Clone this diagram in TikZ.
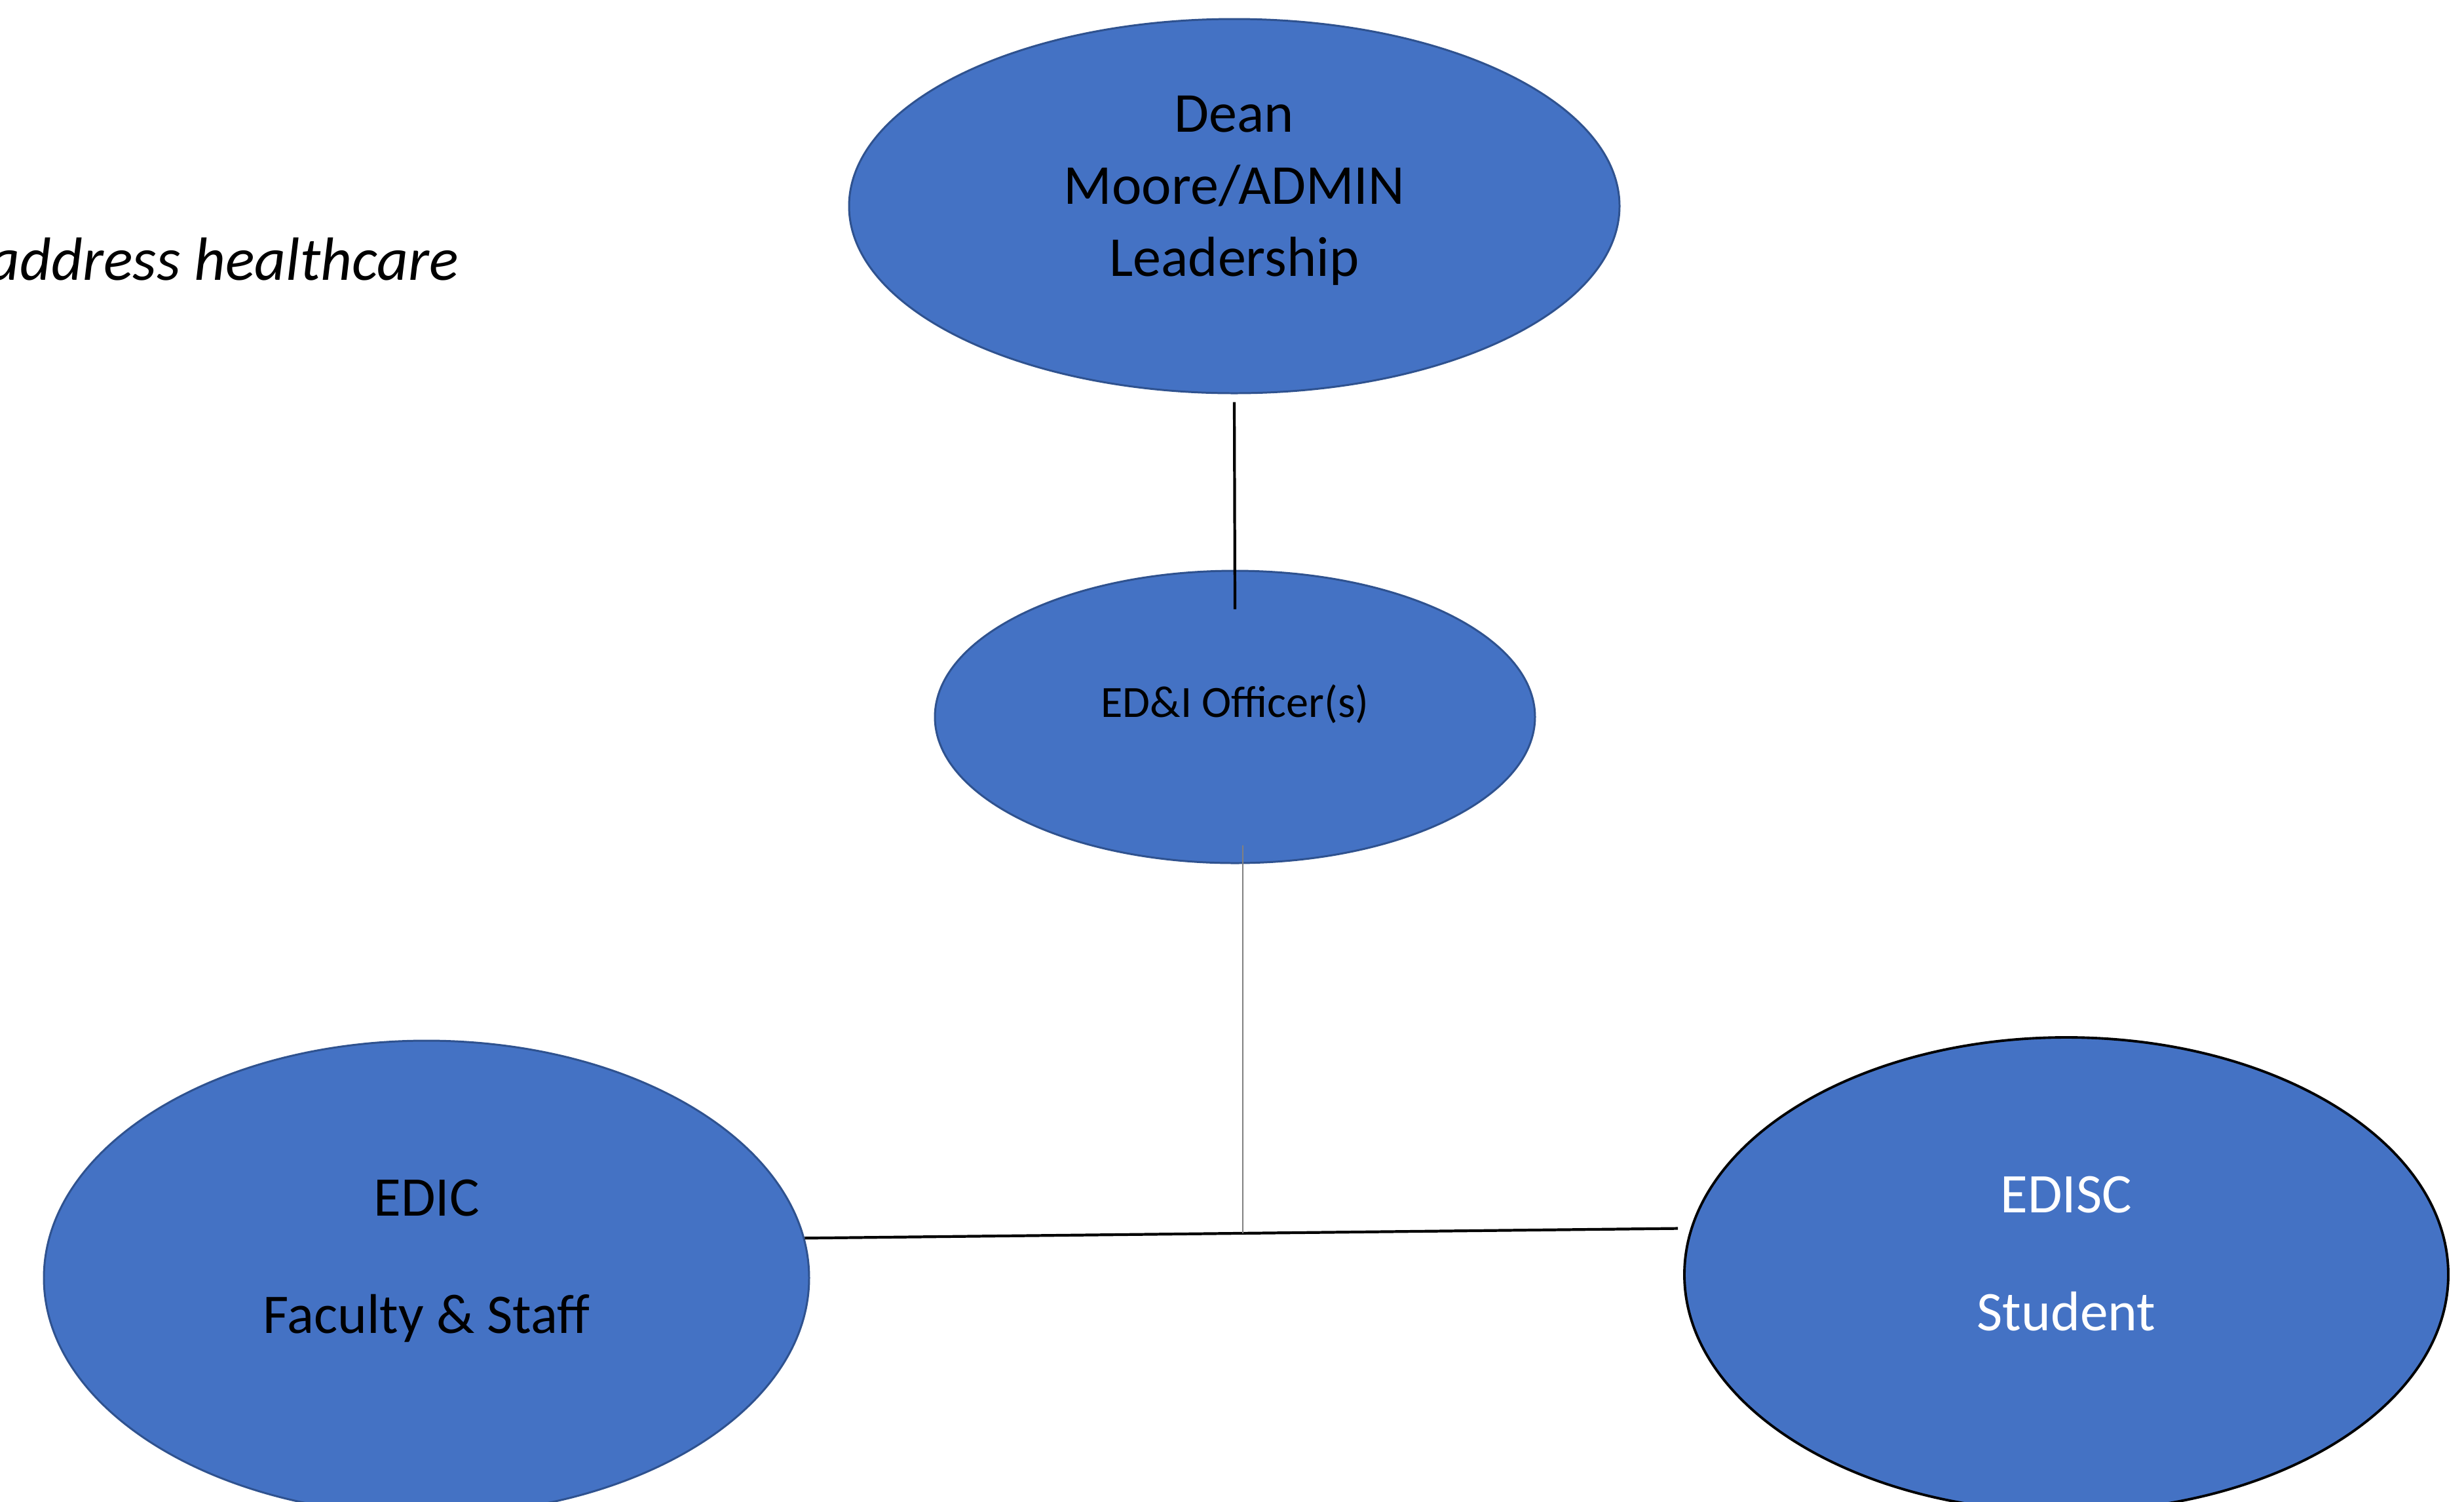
\documentclass[tikz,border=0pt]{standalone}
\usepackage{fontspec}
\setmainfont{Carlito}
\usetikzlibrary{shapes.geometric,calc}
\definecolor{officeblue}{HTML}{4472C4}
\definecolor{officeedge}{HTML}{2F528F}
\tikzset{
  blob/.style={ellipse,draw=officeedge,fill=officeblue,line width=0.85pt,inner sep=0pt},
  blobtext/.style={align=center,font=\fontsize{24.3}{29.6}\selectfont},
  link/.style={line width=1.2pt},
}
\begin{document}
\begin{tikzpicture}
\useasboundingbox (0,0) rectangle (37.61,-22.91);
\node[font=\itshape\fontsize{26.5}{32}\selectfont,anchor=base east] (goal) at (7.12,-4.27) {address healthcare};
% the ellipses
\node[blob,minimum width=11.76cm,minimum height=5.71cm] (dean) at (18.84,-3.145) {};
\node[blob,minimum width=9.16cm,minimum height=4.46cm] (edi) at (18.85,-10.94) {};
\node[blob,minimum width=11.68cm,minimum height=7.24cm] (edic) at (6.51,-19.50) {};
\node[blob,draw=black,line width=1.1pt,minimum width=11.66cm,minimum height=7.24cm] (edisc) at (31.54,-19.45) {};
% the texts in them
\node[blobtext,font=\fontsize{24.5}{31.3}\selectfont] (deantxt) at ([yshift=2.35mm]dean.center) {Dean\\Moore/ADMIN\\Leadership};
\node[blobtext,font=\fontsize{19.4}{23}\selectfont] (editxt) at ([yshift=2mm]edi.center) {ED\&I Officer(s)};
\node[blobtext] (edictxt) at ([yshift=2.55mm]edic.center) {EDIC\\[21.4pt]Faculty \& Staff};
\node[blobtext,text=white] (edisctxt) at ([yshift=3.2mm]edisc.center) {EDISC\\[21.4pt]Student};
% connectors
\coordinate (hleft) at (edic.6);
\coordinate (hright) at ([xshift=-1.9mm]edisc.173);
\coordinate (drop) at ([xshift=1.2mm,yshift=2.9mm]edi.south);
\coordinate (meet) at ($(hleft)!0.502!(hright)$);
\draw[link] ([yshift=-1.2mm]dean.south) -- ([yshift=-6mm]edi.north);
\draw[link] (hleft) -- (hright);
\draw[gray,line width=0.6pt] (drop) -- (drop |- meet);
\end{tikzpicture}
\end{document}
